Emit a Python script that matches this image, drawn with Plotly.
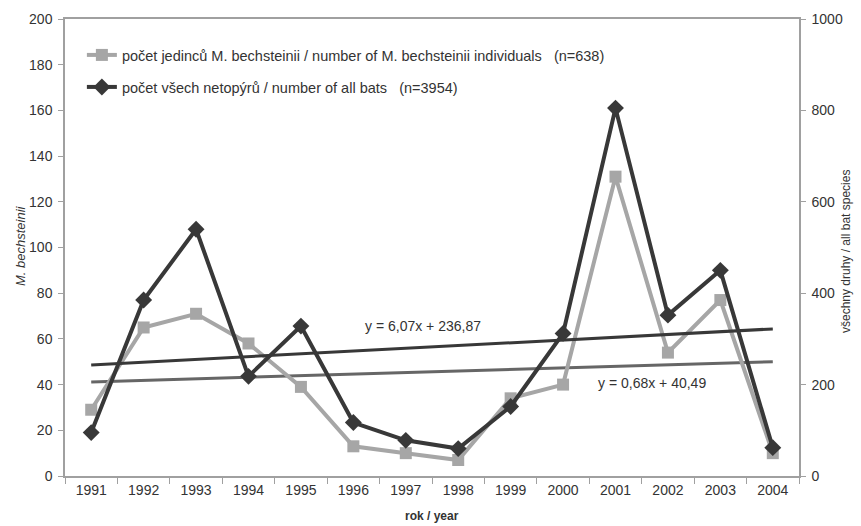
import plotly.graph_objects as go

years = ["1991", "1992", "1993", "1994", "1995", "1996", "1997", "1998",
         "1999", "2000", "2001", "2002", "2003", "2004"]
bechsteinii = [29, 65, 71, 58, 39, 13, 10, 7, 34, 40, 131, 54, 77, 10]
all_bats = [95, 385, 540, 218, 328, 117, 78, 60, 152, 312, 805, 352, 450, 62]

# trendline coefficients as printed on the chart (x = 1..14)
trend_bech = (0.68, 40.49)
trend_all = (6.07, 236.87)
idx = list(range(1, len(years) + 1))
trend_bech_y = [trend_bech[0] * i + trend_bech[1] for i in idx]
trend_all_y = [trend_all[0] * i + trend_all[1] for i in idx]

FONT = "Liberation Sans, Arial, sans-serif"
TXT = "#333333"
AX = "#a0a0a0"
SP = "\u00a0\u00a0\u00a0"

fig = go.Figure()

fig.add_trace(go.Scatter(
    x=years, y=trend_all_y, yaxis="y2", mode="lines",
    line=dict(color="#383838", width=3), showlegend=False, hoverinfo="skip"))
fig.add_trace(go.Scatter(
    x=years, y=trend_bech_y, mode="lines",
    line=dict(color="#666666", width=3), showlegend=False, hoverinfo="skip"))

fig.add_trace(go.Scatter(
    x=years, y=bechsteinii, mode="lines+markers",
    name="počet jedinců M. bechsteinii / number of M. bechsteinii individuals" + SP + "(n=638)",
    line=dict(color="#a6a6a6", width=4),
    marker=dict(symbol="square", size=12, color="#a6a6a6"),
    legend="legend"))
fig.add_trace(go.Scatter(
    x=years, y=all_bats, yaxis="y2", mode="lines+markers",
    name="počet všech netopýrů / number of all bats" + SP + "(n=3954)",
    line=dict(color="#383838", width=4),
    marker=dict(symbol="diamond", size=13, color="#383838"),
    legend="legend2"))

def px_x(p):
    return (p - 65) / 734.0

def px_y(p):
    return (476 - p) / 457.0

ann_font = dict(family=FONT, size=14, color=TXT)
fig.add_annotation(text="y = 6,07x + 236,87", xref="paper", yref="paper",
                   x=px_x(423), y=px_y(326), xanchor="center", yanchor="middle",
                   showarrow=False, font=ann_font)
fig.add_annotation(text="y = 0,68x + 40,49", xref="paper", yref="paper",
                   x=px_x(652), y=px_y(383), xanchor="center", yanchor="middle",
                   showarrow=False, font=ann_font)
# axis titles
fig.add_annotation(text="<i>M. bechsteinii</i>", xref="paper", yref="paper",
                   x=px_x(20), y=px_y(246), textangle=-90, showarrow=False,
                   xanchor="center", yanchor="middle",
                   font=dict(family=FONT, size=13, color=TXT))
fig.add_annotation(text="všechny druhy / all bat species", xref="paper", yref="paper",
                   x=px_x(846), y=px_y(252), textangle=-90, showarrow=False,
                   xanchor="center", yanchor="middle",
                   font=dict(family=FONT, size=12, color=TXT))
fig.add_annotation(text="<b>rok / year</b>", xref="paper", yref="paper",
                   x=px_x(432), y=px_y(516), showarrow=False,
                   xanchor="center", yanchor="middle",
                   font=dict(family=FONT, size=12, color=TXT))

tick_font = dict(family=FONT, size=14, color=TXT)
fig.update_layout(
    width=861, height=526,
    margin=dict(l=65, r=62, t=19, b=50),
    paper_bgcolor="white", plot_bgcolor="white",
    font=dict(family=FONT, size=14, color=TXT),
    xaxis=dict(
        type="category", range=[-0.5, 13.5],
        showline=True, linecolor=AX, linewidth=1.5, mirror=True,
        ticks="outside", tickson="boundaries", ticklen=6, tickcolor=AX,
        showgrid=False, zeroline=False, tickfont=tick_font,
    ),
    yaxis=dict(
        range=[0, 200], dtick=20,
        showline=True, linecolor=AX, linewidth=1.5,
        ticks="outside", ticklen=5, tickcolor=AX,
        showgrid=False, zeroline=False, tickfont=tick_font,
        ticklabelstandoff=3,
    ),
    yaxis2=dict(
        range=[0, 1000], dtick=200, overlaying="y", side="right",
        showline=True, linecolor=AX, linewidth=1.5,
        ticks="outside", ticklen=5, tickcolor=AX,
        showgrid=False, zeroline=False, tickfont=tick_font,
        ticklabelstandoff=3,
    ),
    legend=dict(x=0.023, y=px_y(55), xanchor="left", yanchor="middle",
                bgcolor="rgba(0,0,0,0)", font=dict(family=FONT, size=14.5, color=TXT)),
    legend2=dict(x=0.023, y=px_y(87), xanchor="left", yanchor="middle",
                 bgcolor="rgba(0,0,0,0)", font=dict(family=FONT, size=14.5, color=TXT)),
)

fig.write_html(
    "out.html",
    config={"displayModeBar": False},
    post_script="document.body.style.margin='0';document.body.style.overflow='hidden';",
)
